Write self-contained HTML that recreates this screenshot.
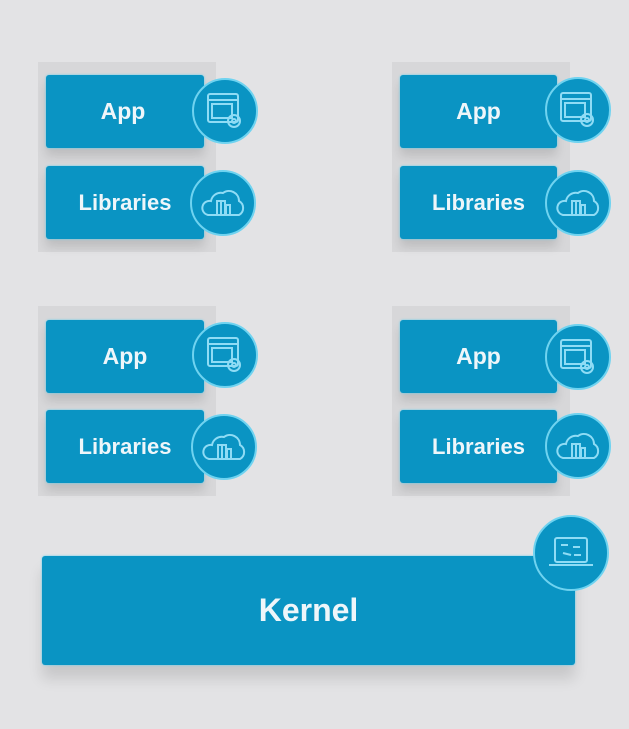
<!DOCTYPE html>
<html><head><style>
body{margin:0;width:629px;height:729px;background:#e3e3e5;position:relative;overflow:hidden;font-family:"Liberation Sans",sans-serif;}
.p{position:absolute;background:#d7d7d9;}
.b{position:absolute;background:#0a94c3;color:#eef6fa;font-weight:bold;display:flex;align-items:center;justify-content:center;border-radius:3px;box-shadow:0 0 2px #5fd0f0,0 8px 10px rgba(0,0,0,0.12);}
.c{position:absolute;border-radius:50%;background:#0a94c3;border:2px solid #6fd3f0;box-sizing:border-box;display:flex;align-items:center;justify-content:center;}
</style></head><body>
<div class="p" style="left:38px;top:62px;width:178px;height:190px"></div>
<div class="p" style="left:392px;top:62px;width:178px;height:190px"></div>
<div class="p" style="left:38px;top:306px;width:178px;height:190px"></div>
<div class="p" style="left:392px;top:306px;width:178px;height:190px"></div>

<div class="b" style="left:46px;top:75px;width:158px;height:73px;font-size:23px;padding-right:4px;box-sizing:border-box">App</div>
<div class="b" style="left:46px;top:166px;width:158px;height:73px;font-size:22px">Libraries</div>
<div class="b" style="left:400px;top:75px;width:157px;height:73px;font-size:23px">App</div>
<div class="b" style="left:400px;top:166px;width:157px;height:73px;font-size:22px">Libraries</div>
<div class="b" style="left:46px;top:320px;width:158px;height:73px;font-size:23px">App</div>
<div class="b" style="left:46px;top:410px;width:158px;height:73px;font-size:22px">Libraries</div>
<div class="b" style="left:400px;top:320px;width:157px;height:73px;font-size:23px">App</div>
<div class="b" style="left:400px;top:410px;width:157px;height:73px;font-size:22px">Libraries</div>
<div class="b" style="left:42px;top:556px;width:533px;height:109px;font-size:32px;box-shadow:0 0 2px #5fd0f0,0 14px 14px rgba(0,0,0,0.12)">Kernel</div>

<svg width="629" height="729" style="position:absolute;left:0;top:0">
<defs>
<g id="app" fill="none" stroke="#8fdcf5" stroke-width="2">
<rect x="-17" y="-17" width="30" height="28" rx="2"/><line x1="-17" y1="-11" x2="13" y2="-11"/><rect x="-13" y="-7" width="20" height="14"/><circle cx="9" cy="10" r="6"/><circle cx="9" cy="10" r="2"/></g>
<g id="lib" fill="none" stroke="#8fdcf5" stroke-width="2">
<path d="M-15 12 H16 A8 8 0 0 0 16 -2 A10 10 0 0 0 0 -10 A10 10 0 0 0 -12 -2 A7 7 0 0 0 -15 12Z"/><rect x="-6" y="-2" width="4" height="14"/><rect x="-2" y="-2" width="4" height="14"/><rect x="3" y="2" width="4" height="10"/></g>
<g id="ker" fill="none" stroke="#8fdcf5" stroke-width="2">
<rect x="-16" y="-15" width="32" height="24" rx="2"/><line x1="-22" y1="12" x2="22" y2="12"/><line x1="-10" y1="-8" x2="-3" y2="-8"/><line x1="2" y1="-6" x2="9" y2="-6"/><line x1="-8" y1="0" x2="0" y2="2"/><line x1="3" y1="2" x2="10" y2="2"/></g>
</defs>
<g fill="#0a94c3" stroke="#6fd3f0" stroke-width="2">
<circle cx="225" cy="111" r="32"/><circle cx="223" cy="203" r="32"/>
<circle cx="578" cy="110" r="32"/><circle cx="578" cy="203" r="32"/>
<circle cx="225" cy="355" r="32"/><circle cx="224" cy="447" r="32"/>
<circle cx="578" cy="357" r="32"/><circle cx="578" cy="446" r="32"/>
<circle cx="571" cy="553" r="37"/>
</g>
<use href="#app" x="225" y="111"/><use href="#lib" x="223" y="203"/>
<use href="#app" x="578" y="110"/><use href="#lib" x="578" y="203"/>
<use href="#app" x="225" y="355"/><use href="#lib" x="224" y="447"/>
<use href="#app" x="578" y="357"/><use href="#lib" x="578" y="446"/>
<use href="#ker" x="571" y="553"/>
</svg>
</body></html>
